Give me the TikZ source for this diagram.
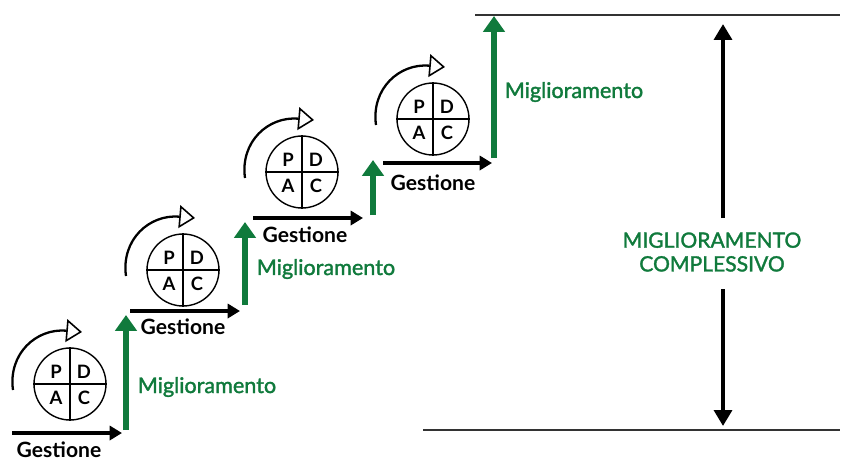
\documentclass[tikz,border=0pt]{standalone}
\usepackage{fontspec}
\setmainfont{Lato}
\newfontfamily\miglfont[FakeBold=1.6]{Lato}
\usetikzlibrary{arrows.meta,calc,positioning}
\definecolor{miglgreen}{RGB}{16,122,60}

\tikzset{
  pdca/.style={circle,draw,line width=0.8pt,minimum size=1.44cm,inner sep=0pt},
  letter/.style={inner sep=0pt,font=\bfseries\fontsize{10.5}{10.5}\selectfont},
  cycle arrow/.style={line width=1.3pt,-{Triangle[open,length=9pt,width=13pt,line width=0.9pt]}},
  gest arrow/.style={line width=1.8pt,-{Triangle[length=7pt,width=8pt]}},
  migl arrow/.style={miglgreen,line width=3.4pt,-{Triangle[length=9pt,width=12pt]}},
  total arrow/.style={line width=2.8pt,-{Triangle[length=9pt,width=10pt]}},
  gest/.style={inner sep=1pt,font=\bfseries\fontsize{12}{12}\selectfont},
  migl/.style={miglgreen,font=\miglfont\fontsize{12.3}{12.3}\selectfont},
}

% PDCA wheel with its curved arrow: #1 name, #2 centre
\newcommand{\pdcawheel}[2]{
  \node[pdca] (#1) at (#2) {};
  \draw[line width=0.8pt] (#1.north) -- (#1.south) (#1.west) -- (#1.east);
  \node[letter] (#1-p) at ($(#1)+(-14,-12)$) {P};
  \node[letter] (#1-d) at ($(#1)+(14,-12)$)  {D};
  \node[letter] (#1-a) at ($(#1)+(-14,14)$)  {A};
  \node[letter] (#1-c) at ($(#1)+(14,14)$)   {C};
  \coordinate (#1-from) at ($(#1)+(-57,6)$);
  \coordinate (#1-to)   at ($(#1)+(12,-52)$);
  \draw[cycle arrow] (#1-from) .. controls ($(#1)+(-62,-30)$) and ($(#1)+(-34,-56)$) .. (#1-to);
}

\begin{document}
\begin{tikzpicture}[x=0.02cm,y=-0.02cm]
   \useasboundingbox (0,0) rectangle (854,461);

   % stair corners
   \coordinate (g1s) at (12,433);  \coordinate (g1e) at (122,433);
   \coordinate (m1s) at (126,430); \coordinate (m1e) at (126,315);
   \coordinate (g2s) at (130,311); \coordinate (g2e) at (240,311);
   \coordinate (m2s) at (245,305); \coordinate (m2e) at (245,222);
   \coordinate (g3s) at (253,218); \coordinate (g3e) at (363,218);
   \coordinate (m3s) at (373,215); \coordinate (m3e) at (373,160);
   \coordinate (g4s) at (383,163); \coordinate (g4e) at (492,163);
   \coordinate (m4s) at (494,158); \coordinate (m4e) at (494,16);

   \pdcawheel{w1}{70,384}
   \pdcawheel{w2}{183,270}
   \pdcawheel{w3}{302,172}
   \pdcawheel{w4}{433,119}

   \draw[gest arrow] (g1s) -- (g1e);
   \draw[gest arrow] (g2s) -- (g2e);
   \draw[gest arrow] (g3s) -- (g3e);
   \draw[gest arrow] (g4s) -- (g4e);
   \draw[migl arrow] (m1s) -- (m1e);
   \draw[migl arrow] (m2s) -- (m2e);
   \draw[migl arrow] (m3s) -- (m3e);
   \draw[migl arrow] (m4s) -- (m4e);

   \node[gest] (gest1) at (59,450) {Gestione};
   \node[gest] (gest2) at (183,327) {Gestione};
   \node[gest] (gest3) at (305,235) {Gestione};
   \node[gest] (gest4) at (433,183) {Gestione};
   \node[migl] (migl1) at (207,387) {Miglioramento};
   \node[migl] (migl2) at (326,269) {Miglioramento};
   \node[migl] (migl4) at (574,92)  {Miglioramento};

   % overall improvement
   \coordinate (top l) at (475,15);  \coordinate (top r) at (840,15);
   \coordinate (bot l) at (423,430); \coordinate (bot r) at (840,430);
   \draw[line width=1pt,black!80] (top l) -- (top r);
   \draw[line width=1pt,black!80] (bot l) -- (bot r);
   \node[migl,align=center,font=\miglfont\fontsize{12}{13.5}\selectfont] (total) at (712,252)
        {MIGLIORAMENTO\\COMPLESSIVO};
   \coordinate (up)   at (723,24);
   \coordinate (down) at (723,426);
   \draw[total arrow] (723,218) -- (up);
   \draw[total arrow] (723,289) -- (down);
\end{tikzpicture}
\end{document}
